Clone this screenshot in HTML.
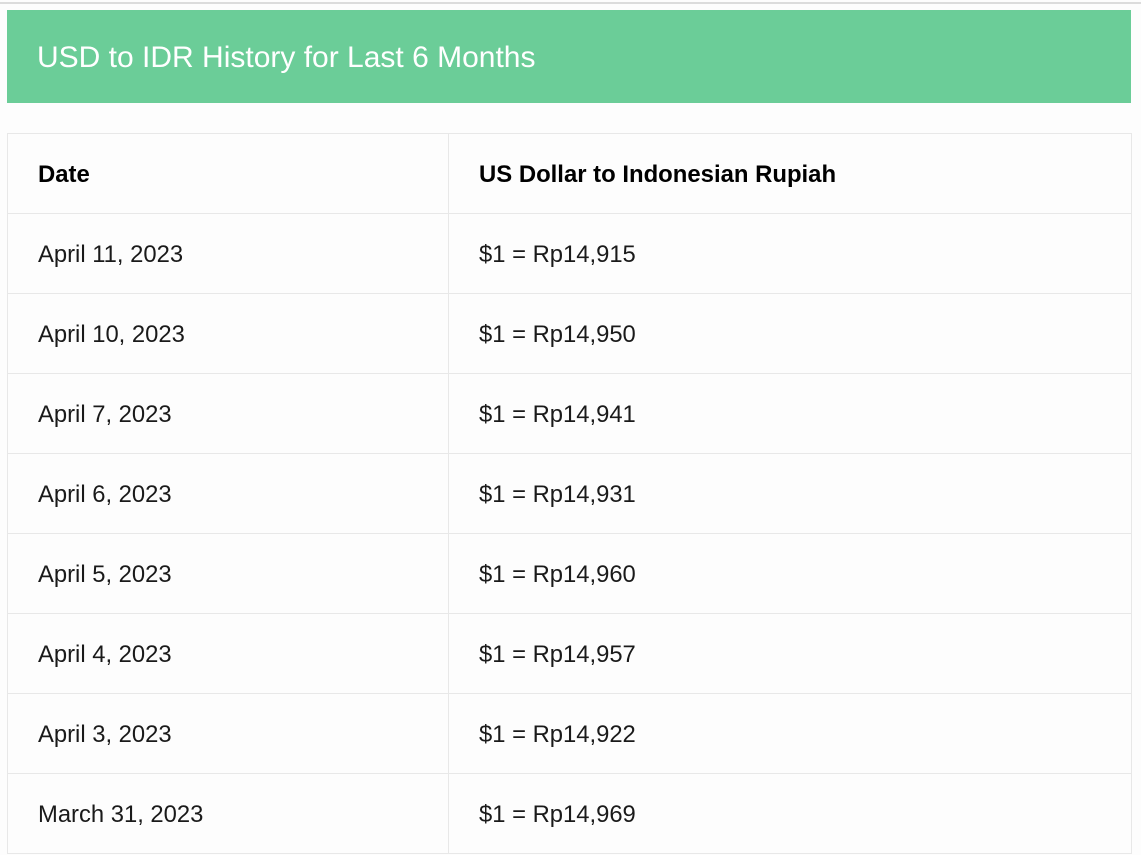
<!DOCTYPE html>
<html><head><meta charset="utf-8"><style>
body{margin:0;width:1141px;height:855px;background:#fdfdfd;font-family:"Liberation Sans",sans-serif;position:relative;overflow:hidden}
.topline{position:absolute;left:0;top:2px;width:1141px;height:2px;background:#dcdcdc}
.head{position:absolute;left:7px;top:10px;width:1124px;height:93px;background:#6bcd98;color:#fff;font-size:30px;line-height:95px;box-sizing:border-box;padding-left:30px}
table{position:absolute;left:7px;top:133px;width:1125px;border-collapse:collapse;font-size:23.8px;color:#1a1a1a}
td,th{border:1px solid #e8e8e8;height:80px;padding:3px 0 0 30px;text-align:left;box-sizing:border-box}
th{font-weight:bold;font-size:23.9px;color:#000}
td:first-child,th:first-child{width:441px}
</style></head><body>
<div class="topline"></div>
<div class="head">USD to IDR History for Last 6 Months</div>
<table>
<tr><th>Date</th><th>US Dollar to Indonesian Rupiah</th></tr>
<tr><td>April 11, 2023</td><td>$1 = Rp14,915</td></tr>
<tr><td>April 10, 2023</td><td>$1 = Rp14,950</td></tr>
<tr><td>April 7, 2023</td><td>$1 = Rp14,941</td></tr>
<tr><td>April 6, 2023</td><td>$1 = Rp14,931</td></tr>
<tr><td>April 5, 2023</td><td>$1 = Rp14,960</td></tr>
<tr><td>April 4, 2023</td><td>$1 = Rp14,957</td></tr>
<tr><td>April 3, 2023</td><td>$1 = Rp14,922</td></tr>
<tr><td>March 31, 2023</td><td>$1 = Rp14,969</td></tr>
</table>
</body></html>
